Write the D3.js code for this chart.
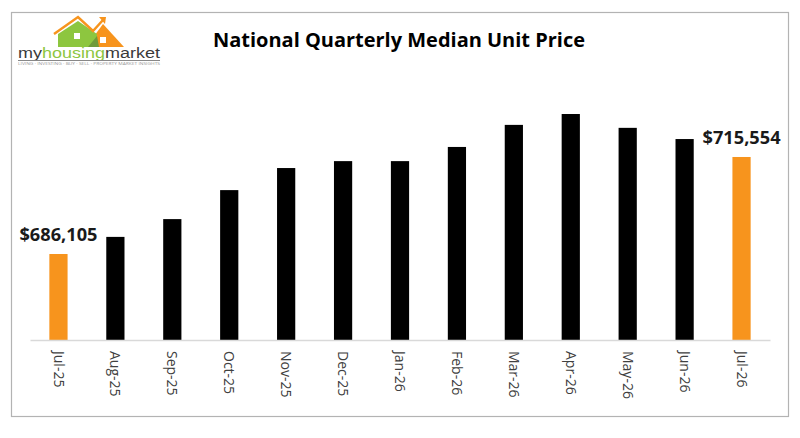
<!DOCTYPE html>
<html>
<head>
  <meta charset="utf-8">
  <title>National Quarterly Median Unit Price</title>
  <script src="https://cdn.jsdelivr.net/npm/d3@7/dist/d3.min.js"></script>
  <style>
    html, body { margin: 0; padding: 0; background: #fff; }
    svg { display: block; font-family: "Open Sans", "Noto Sans", sans-serif; }
  </style>
</head>
<body>
  <svg width="800" height="438"></svg>

  <script>
    // data
    const months = ["Jul-25", "Aug-25", "Sep-25", "Oct-25", "Nov-25", "Dec-25",
                    "Jan-26", "Feb-26", "Mar-26", "Apr-26", "May-26", "Jun-26", "Jul-26"];
    const prices = [686105, 691300, 696700, 705500, 712200, 714300,
                    714300, 718600, 725300, 728600, 724400, 721000, 715554];
    const yDomain = [660000, 730000];

    const data = months.map((m, i) => ({ month: m, price: prices[i] }));

    const svg = d3.select("svg");

    // outer frame
    svg.append("rect")
      .attr("x", 11.5).attr("y", 12.5)
      .attr("width", 777).attr("height", 404)
      .attr("fill", "#fff")
      .attr("stroke", "#b3b3b3")
      .attr("stroke-width", 1.2);

    const x = d3.scaleBand()
      .domain(months)
      .range([30, 770])
      .paddingInner(0.68)
      .paddingOuter(0.34);

    const y = d3.scaleLinear()
      .domain(yDomain)
      .range([340, 109.4]);

    const orange = "#f7941d";
    const last = months.length - 1;
    const isEnd = i => i === 0 || i === last;

    // bars
    svg.append("g")
      .selectAll("rect")
      .data(data)
      .join("rect")
      .attr("x", d => x(d.month))
      .attr("y", d => y(d.price))
      .attr("width", x.bandwidth())
      .attr("height", d => y(yDomain[0]) - y(d.price))
      .attr("fill", (d, i) => isEnd(i) ? orange : "#000");

    // axis
    const xAxis = svg.append("g")
      .attr("transform", `translate(0,${y(yDomain[0])})`)
      .call(d3.axisBottom(x).tickSize(0).tickSizeOuter(0));
    xAxis.select(".domain")
      .attr("stroke", "#d9d9d9")
      .attr("stroke-width", 1.5);
    xAxis.selectAll(".tick text")
      .attr("transform", "rotate(90)")
      .attr("x", 11)
      .attr("y", 0)
      .attr("dy", "0.35em")
      .attr("text-anchor", "start")
      .attr("fill", "#404040")
      .style("font-size", "14px")
      .style("font-family", "'Open Sans', sans-serif");

    // value labels on first and last bars
    const fmt = d3.format("$,.0f");
    svg.append("g")
      .selectAll("text")
      .data(data.filter((d, i) => isEnd(i)))
      .join("text")
      .attr("x", d => x(d.month) + x.bandwidth() / 2)
      .attr("y", d => y(d.price) - 13)
      .attr("text-anchor", "middle")
      .attr("fill", "#1a1a1a")
      .attr("font-weight", "bold")
      .attr("font-size", 17)
      .attr("textLength", 78)
      .attr("lengthAdjust", "spacingAndGlyphs")
      .text(d => fmt(d.price));

    // title
    svg.append("text")
      .attr("x", 399)
      .attr("y", 47)
      .attr("text-anchor", "middle")
      .attr("font-weight", "bold")
      .attr("font-size", 19)
      .attr("fill", "#000")
      .attr("textLength", 372)
      .attr("lengthAdjust", "spacingAndGlyphs")
      .text("National Quarterly Median Unit Price");

    // logo
    const logo = svg.append("g");
    const green = "#8dc63f";
    logo.append("path")
      .attr("d", "M86,47 L103,24 L124,47 Z")
      .attr("fill", orange);
    logo.append("path")
      .attr("d", "M58,47 L58,34 L78,21 L97,34 L97,47 Z")
      .attr("fill", green);
    logo.append("path")
      .attr("d", "M88,47 L97,36 L99,47 Z")
      .attr("fill", "#6f9a3a");
    logo.append("path")
      .attr("d", "M54,34 L78,17 L93,31 L103,20")
      .attr("fill", "none")
      .attr("stroke", orange)
      .attr("stroke-width", 2.5);
    logo.append("path")
      .attr("d", "M99,17 L106,17 L105,24 Z")
      .attr("fill", orange);
    [[74, 33], [100, 37]].forEach(([wx, wy]) => {
      logo.append("rect").attr("x", wx).attr("y", wy)
        .attr("width", 6).attr("height", 6).attr("fill", "#fff");
    });
    const brand = logo.append("text")
      .attr("x", 18).attr("y", 58)
      .attr("font-size", 14)
      .attr("font-family", "'Liberation Sans', sans-serif")
      .attr("textLength", 142)
      .attr("lengthAdjust", "spacingAndGlyphs");
    brand.append("tspan").attr("fill", "#3a3a3a").text("my");
    brand.append("tspan").attr("fill", green).text("housing");
    brand.append("tspan").attr("fill", "#3a3a3a").text("market");
    logo.append("line")
      .attr("x1", 18).attr("x2", 160)
      .attr("y1", 60.5).attr("y2", 60.5)
      .attr("stroke", "#888").attr("stroke-width", 1);
    logo.append("text")
      .attr("x", 18).attr("y", 65)
      .attr("font-size", 3.5)
      .attr("fill", "#999")
      .attr("textLength", 142)
      .attr("lengthAdjust", "spacingAndGlyphs")
      .text("LIVING · INVESTING · BUY · SELL · PROPERTY MARKET INSIGHTS");
  </script>
</body>
</html>
